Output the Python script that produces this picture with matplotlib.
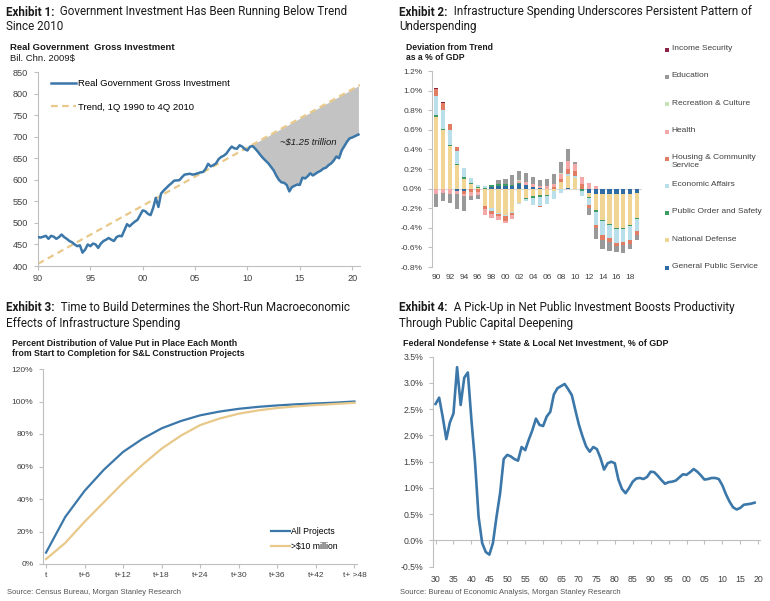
import numpy as np
import matplotlib
matplotlib.use("Agg")
import matplotlib.pyplot as plt

# ---------------- DATA ----------------
# Exhibit 1
inv_years = [1990.0, 1990.25, 1990.5, 1990.75, 1991.0, 1991.25, 1991.5, 1991.75,
             1992.0, 1992.25, 1992.5, 1992.75, 1993.0, 1993.25, 1993.5, 1993.75,
             1994.0, 1994.25, 1994.5, 1994.75, 1995.0, 1995.25, 1995.5, 1995.75,
             1996.0, 1996.25, 1996.5, 1996.75, 1997.0, 1997.25, 1997.5, 1997.75,
             1998.0, 1998.25, 1998.5, 1998.75, 1999.0, 1999.25, 1999.5, 1999.75,
             2000.0, 2000.25, 2000.5, 2000.75, 2001.0, 2001.25, 2001.5, 2001.75,
             2002.0, 2002.5, 2002.75, 2003.0, 2003.5, 2003.75, 2004.0, 2004.25,
             2004.5, 2004.75, 2005.0, 2005.5, 2005.75, 2006.0, 2006.25, 2006.5,
             2006.75, 2007.0, 2007.25, 2007.5, 2007.75, 2008.0, 2008.25, 2008.5,
             2008.75, 2009.0, 2009.25, 2009.5, 2009.75, 2010.0, 2010.25, 2010.5,
             2010.75, 2011.0, 2011.25, 2011.5, 2011.75, 2012.0, 2012.25, 2012.5,
             2012.75, 2013.0, 2013.25, 2013.5, 2013.75, 2014.0, 2014.25, 2014.5,
             2014.75, 2015.0, 2015.25, 2015.5, 2015.75, 2016.0, 2016.25, 2016.5,
             2016.75, 2017.0, 2017.25, 2017.5, 2017.75, 2018.0, 2018.25, 2018.5,
             2018.75, 2019.0, 2019.25, 2019.5, 2019.75, 2020.0, 2020.25, 2020.6]
inv_vals = [467, 466, 468, 470, 463, 470, 468, 463,
            467, 473, 467, 463, 458, 455, 450, 446,
            448, 431, 438, 450, 446, 452, 450, 442,
            452, 458, 461, 465, 461, 458, 467, 470,
            469, 483, 497, 492, 498, 503, 507, 518,
            529, 527, 521, 518, 535, 558, 537, 568,
            575, 587, 592, 598, 599, 606, 612, 613,
            614, 612, 613, 617, 618, 625, 637, 631,
            634, 638, 648, 653, 656, 661, 670, 677,
            673, 672, 680, 677, 671, 668, 677, 678,
            672, 665, 657, 650, 644, 638, 630, 622,
            610, 600, 594, 593, 588, 573, 583, 586,
            589, 588, 605, 603, 608, 615, 610, 614,
            618, 621, 626, 628, 634, 638, 645, 654,
            650, 668, 678, 688, 696, 698, 701, 705]
trend_years = [1990.0, 2020.75]
trend_vals = [405, 820]
ex1_yticks = [400, 450, 500, 550, 600, 650, 700, 750, 800, 850]
ex1_xticks = [1990, 1995, 2000, 2005, 2010, 2015, 2020]

# Exhibit 2
ex2_years = list(range(1990, 2020))
ex2_series = ["General Public Service", "National Defense", "Public Order and Safety",
              "Economic Affairs", "Housing & Community\nService", "Health",
              "Recreation & Culture", "Education", "Income Security"]
gps = [0, 0, 0, -0.02, -0.02, 0, 0, 0, 0.02, 0.03, 0.03, 0.03, 0.05, 0.035, 0.02,
       0.01, 0, 0, 0, 0.005, -0.005, -0.005, -0.04, -0.05, -0.06, -0.06, -0.06, -0.06, -0.05, -0.04]
nat_def = [0.735, 0.60, 0.43, 0.24, 0.10, 0.05, 0.01, -0.18, -0.20, -0.25, -0.27, -0.24, -0.15, -0.10, -0.08,
           -0.07, -0.07, -0.02, 0.07, 0.12, 0.11, 0.0, -0.05, -0.17, -0.26, -0.30, -0.34, -0.34, -0.32, -0.26]
pub_order = [0.017, 0.012, 0.015, 0.015, 0.015, 0.01, 0.005, 0.01, 0.02, 0.02, 0.015, 0.01, 0.01, -0.01, -0.02,
             -0.02, -0.01, -0.005, 0.0, 0.0, 0.0, -0.02, -0.01, -0.015, -0.015, -0.015, -0.015, -0.015, -0.015, -0.015]
econ = [0.197, 0.19, 0.15, 0.13, 0.10, 0.05, 0.025, 0.02, -0.03, -0.01, -0.01, -0.01, -0.005, -0.02, -0.07,
        -0.09, -0.08, -0.08, -0.04, 0.02, 0.02, -0.05, -0.07, -0.135, -0.135, -0.13, -0.14, -0.13, -0.14, -0.12]
housing = [0.068, 0.07, 0.06, 0.04, -0.03, -0.03, -0.03, -0.03, -0.03, -0.02, -0.05, -0.02, 0.0, 0.0, 0.0,
           -0.01, 0.0, 0.02, 0.03, 0.05, 0.05, 0.05, -0.03, -0.035, -0.05, -0.04, -0.03, -0.03, -0.04, -0.04]
health = [-0.05, -0.04, -0.05, -0.04, -0.03, -0.05, -0.04, -0.06, -0.04, -0.04, -0.02, -0.04, 0.02, 0.03, 0.03,
          0.02, 0.03, 0.03, 0.05, 0.09, 0.07, 0.07, 0.06, 0.025, 0, 0, 0, 0, 0, 0]
recreation = [0.004, 0.004, 0.003, 0, 0, 0, 0, 0, 0, 0, 0, 0, 0.005, 0, 0,
              0, 0, 0, 0.01, 0, 0, 0, 0, 0, 0, 0, 0, 0, 0, 0]
education = [-0.14, -0.09, -0.10, -0.15, -0.15, -0.04, -0.04, 0.0, 0.0, 0.04, 0.05, 0.10, 0.09, 0.09, 0.07,
             0.06, 0.07, 0.10, 0.11, 0.12, 0.02, 0.0, -0.07, -0.105, -0.10, -0.09, -0.06, -0.08, -0.05, -0.05]
income_sec = [0.005, 0.004, 0.003, 0, 0, 0, 0, 0, 0, 0, 0, 0, 0, 0, 0,
              0, 0, 0, 0, 0, 0, 0, 0, 0, 0, 0, 0, 0, 0, 0]
ex2_yticks = [-0.8, -0.6, -0.4, -0.2, 0.0, 0.2, 0.4, 0.6, 0.8, 1.0, 1.2]
ex2_xticks = list(range(1990, 2019, 2))

# Exhibit 3
ex3_months = [0, 3, 6, 9, 12, 15, 18, 21, 24, 27, 30, 33, 36, 39, 42, 45, 48]
all_projects = [7, 29, 45, 58, 69, 77, 83.5, 88, 91.5, 93.8, 95.5, 96.7, 97.6, 98.3, 98.8, 99.3, 100]
big_projects = [3, 13, 26, 38, 50, 61, 71, 79, 85.5, 89.5, 92.5, 94.5, 96, 97, 97.8, 98.5, 99.2]
ex3_xticks = [0, 6, 12, 18, 24, 30, 36, 42, 48]
ex3_xlabels = ["t", "t+6", "t+12", "t+18", "t+24", "t+30", "t+36", "t+42", "t+ >48"]
ex3_yticks = [0, 20, 40, 60, 80, 100, 120]

# Exhibit 4
ex4_years = list(range(1930, 2020))
ex4_vals = [2.60, 2.72, 2.35, 1.93, 2.25, 2.42, 3.30, 2.58, 3.10, 3.20,
            2.30, 1.50, 0.45, -0.05, -0.22, -0.27, -0.05, 0.45, 0.90, 1.55,
            1.63, 1.60, 1.55, 1.52, 1.78, 1.72, 1.92, 2.10, 2.32, 2.20,
            2.18, 2.36, 2.45, 2.78, 2.90, 2.94, 2.98, 2.88, 2.77, 2.48,
            2.20, 1.98, 1.79, 1.69, 1.78, 1.74, 1.57, 1.35, 1.47, 1.50,
            1.47, 1.16, 0.98, 0.90, 1.00, 1.12, 1.18, 1.19, 1.17, 1.21,
            1.31, 1.30, 1.23, 1.15, 1.08, 1.11, 1.12, 1.14, 1.20, 1.26,
            1.25, 1.30, 1.36, 1.31, 1.24, 1.16, 1.17, 1.19, 1.19, 1.17,
            1.05, 0.88, 0.74, 0.63, 0.59, 0.62, 0.68, 0.69, 0.70, 0.72]
ex4_yticks = [-0.5, 0.0, 0.5, 1.0, 1.5, 2.0, 2.5, 3.0, 3.5]
ex4_xticks = list(range(1930, 2021, 5))

# ---------------- STYLE ----------------
BLUE = "#3b77a9"
TAN = "#e8c98a"
GREY_FILL = "#c3c3c3"
SPINE = "#bfbfbf"
LABEL = "#404040"
TXT = "#1a1a1a"
ex2_colors = ["#2f6ca3", "#f0d595", "#3d9a62", "#b9dfea", "#e17d62",
              "#f3a9a9", "#c9e3b6", "#999999", "#8b2346"]
TICKFONT = "Liberation Sans"
TITLEFONT = "Roboto"

W, H = 770, 601
fig = plt.figure(figsize=(W / 100, H / 100), dpi=100)


def rect(l, t, r, b):
    return [l / W, 1 - b / H, (r - l) / W, (b - t) / H]


ov = fig.add_axes([0, 0, 1, 1])
ov.set_xlim(0, W)
ov.set_ylim(H, 0)
ov.axis("off")
ov.set_zorder(-5)

renderer = fig.canvas.get_renderer()
TS = 8.35


def title(x, y, bold, rest, line2, lh=14.5):
    t1 = ov.text(x, y, bold, fontweight="bold", fontsize=TS, family=TITLEFONT,
                 va="center", ha="left", color=TXT)
    bb = t1.get_window_extent(renderer=renderer)
    ov.text(bb.x1, y, rest, fontsize=TS, family=TITLEFONT, va="center", ha="left", color=TXT)
    ov.text(x, y + lh, line2, fontsize=TS, family=TITLEFONT, va="center", ha="left", color=TXT)


def style_axes(ax, labelsize):
    for s in ["top", "right"]:
        ax.spines[s].set_visible(False)
    for s in ["left", "bottom"]:
        ax.spines[s].set_color(SPINE)
        ax.spines[s].set_linewidth(0.8)
    ax.tick_params(color=SPINE, labelcolor=LABEL, labelsize=labelsize, width=0.8, length=3)
    for lab in ax.get_xticklabels() + ax.get_yticklabels():
        lab.set_family(TICKFONT)


# ---------------- EXHIBIT 1 ----------------
title(6, 12, "Exhibit 1:", "  Government Investment Has Been Running Below Trend", "Since 2010")
ov.text(10, 47, "Real Government  Gross Investment", fontweight="bold", fontsize=6.8,
        family=TICKFONT, va="center", color=TXT)
ov.text(10, 58, "Bil. Chn. 2009$", fontsize=6.8, family=TICKFONT, va="center", color=TXT)

ax1 = fig.add_axes(rect(38, 72, 360, 266))
iy = np.array(inv_years)
iv = np.array(inv_vals, dtype=float)
trend_at = np.interp(iy, trend_years, trend_vals)
ax1.fill_between(iy, iv, trend_at, where=(iy >= 2010.25) & (trend_at >= iv),
                 interpolate=True, color=GREY_FILL, lw=0, zorder=1)
l_tr, = ax1.plot(trend_years, trend_vals, color=TAN, lw=1.6, ls=(0, (3, 2)), zorder=2)
l_inv, = ax1.plot(iy, iv, color=BLUE, lw=1.8, zorder=3)
ax1.set_xlim(1990, 2020.75)
ax1.set_ylim(400, 850)
ax1.set_yticks(ex1_yticks)
ax1.set_xticks(ex1_xticks)
ax1.set_xticklabels([f"{y % 100:02d}" for y in ex1_xticks])
style_axes(ax1, 6.6)
ax1.tick_params(axis="y", pad=4.5)
ax1.tick_params(axis="x", pad=3)
ax1.text(2015.8, 688, "~$1.25 trillion", style="italic", fontsize=6.8, family=TICKFONT,
         ha="center", va="center", color=TXT)
ax1.legend([l_inv, l_tr], ["Real Government Gross Investment", "Trend, 1Q 1990 to 4Q 2010"],
           loc="upper left", bbox_to_anchor=(51 / W, 1 - 79.5 / H), bbox_transform=fig.transFigure,
           frameon=False, borderpad=0, borderaxespad=0, handlelength=2.65, handletextpad=0.2,
           labelspacing=1.5, prop={"family": TICKFONT, "size": 6.8})

# ---------------- EXHIBIT 2 ----------------
title(399, 12, "Exhibit 2:", "  Infrastructure Spending Underscores Persistent Pattern of",
      "Underspending")
ov.text(406, 47.3, "Deviation from Trend", fontweight="bold", fontsize=6.2, family=TICKFONT,
        va="center", color=TXT)
ov.text(406, 57, "as a % of GDP", fontweight="bold", fontsize=6.2, family=TICKFONT,
        va="center", color=TXT)

ax2 = fig.add_axes(rect(432, 71, 642, 267))
series_vals = [gps, nat_def, pub_order, econ, housing, health, recreation, education, income_sec]
xs = np.array(ex2_years)
pos_b = np.zeros(len(xs))
neg_b = np.zeros(len(xs))
for vals, col in zip(series_vals, ex2_colors):
    v = np.array(vals, dtype=float)
    bottom = np.where(v >= 0, pos_b, neg_b)
    ax2.bar(xs, v, bottom=bottom, width=0.6, color=col, lw=0, zorder=2)
    pos_b = pos_b + np.where(v >= 0, v, 0)
    neg_b = neg_b + np.where(v < 0, v, 0)
ax2.axhline(0, color="#d9d9d9", lw=0.8, zorder=1)
ax2.set_xlim(1989.42, 2019.68)
ax2.set_ylim(-0.8, 1.2)
ax2.set_yticks(ex2_yticks)
ax2.set_yticklabels([f"{v:.1f}%" for v in ex2_yticks])
ax2.set_xticks(ex2_xticks)
ax2.set_xticklabels([f"{y % 100:02d}" for y in ex2_xticks])
style_axes(ax2, 6.0)
ax2.spines["bottom"].set_visible(False)
ax2.tick_params(axis="x", length=0, pad=5)
ax2.tick_params(axis="y", pad=4)

# legend (top entry = last series)
for i, (name, col) in enumerate(zip(ex2_series[::-1], ex2_colors[::-1])):
    yy = 50 + 27.2 * i
    ov.scatter([667], [yy], marker="s", s=9, color=col, lw=0)
    ov.text(671.5, yy - 4.8, name, fontsize=6.0, family=TICKFONT, va="top", ha="left",
            color=LABEL, linespacing=1.25)

# ---------------- EXHIBIT 3 ----------------
title(6, 307.5, "Exhibit 3:", "  Time to Build Determines the Short-Run Macroeconomic",
      "Effects of Infrastructure Spending", lh=16)
ov.text(12.5, 343, "Percent Distribution of Value Put in Place Each Month", fontweight="bold",
        fontsize=6.3, family=TICKFONT, va="center", color=TXT)
ov.text(12.5, 353.5, "from Start to Completion for S&L Construction Projects", fontweight="bold",
        fontsize=6.3, family=TICKFONT, va="center", color=TXT)

ax3 = fig.add_axes(rect(43, 369, 357, 564))
la, = ax3.plot(ex3_months, all_projects, color=BLUE, lw=1.6)
lb, = ax3.plot(ex3_months, big_projects, color=TAN, lw=1.6)
ax3.set_xlim(-0.47, 48.4)
ax3.set_ylim(0, 120)
ax3.set_yticks(ex3_yticks)
ax3.set_yticklabels([f"{v}%" for v in ex3_yticks])
ax3.set_xticks(ex3_xticks)
ax3.set_xticklabels(ex3_xlabels)
style_axes(ax3, 6.0)
ax3.tick_params(axis="y", pad=4)
ax3.tick_params(axis="x", pad=2.5)
ax3.legend([la, lb], ["All Projects", ">$10 million"], loc="upper left",
           bbox_to_anchor=(270.5 / W, 1 - 527.5 / H), bbox_transform=fig.transFigure,
           frameon=False, borderpad=0, borderaxespad=0, handlelength=2.25, handletextpad=0.15,
           labelspacing=0.62, prop={"family": TICKFONT, "size": 6.2})
ov.text(7, 593, "Source: Census Bureau, Morgan Stanley Research", fontsize=5.5,
        family=TICKFONT, va="center", color="#555555")

# ---------------- EXHIBIT 4 ----------------
title(399, 307.5, "Exhibit 4:", "  A Pick-Up in Net Public Investment Boosts Productivity",
      "Through Public Capital Deepening", lh=16)
ov.text(403, 343, "Federal Nondefense + State & Local Net Investment, % of GDP", fontweight="bold",
        fontsize=6.4, family=TICKFONT, va="center", color=TXT)

ax4 = fig.add_axes(rect(432.7, 356.7, 760, 566.7))
ax4.plot(ex4_years, ex4_vals, color=BLUE, lw=1.9, zorder=3)
ax4.set_xlim(1929.2, 2020.5)
ax4.set_ylim(-0.5, 3.5)
ax4.set_yticks(ex4_yticks)
ax4.set_yticklabels([f"{v:.1f}%" for v in ex4_yticks])
ax4.set_xticks(ex4_xticks)
ax4.set_xticklabels([f"{y % 100:02d}" for y in ex4_xticks])
style_axes(ax4, 6.3)
ax4.spines["bottom"].set_visible(False)
ax4.tick_params(axis="x", length=0, pad=6)
ax4.tick_params(axis="y", pad=4)
ylo, yhi = ax4.get_ylim()
sec = ax4.secondary_xaxis((0 - ylo) / (yhi - ylo))
sec.set_xticks(ex4_xticks)
sec.set_xticklabels([])
sec.tick_params(axis="x", color=SPINE, length=3, width=0.8)
for s in sec.spines.values():
    s.set_color(SPINE)
    s.set_linewidth(0.8)
ov.text(400, 593, "Source: Bureau of Economic Analysis, Morgan Stanley Research", fontsize=5.5,
        family=TICKFONT, va="center", color="#555555")

fig.savefig("out.png", dpi=100)
